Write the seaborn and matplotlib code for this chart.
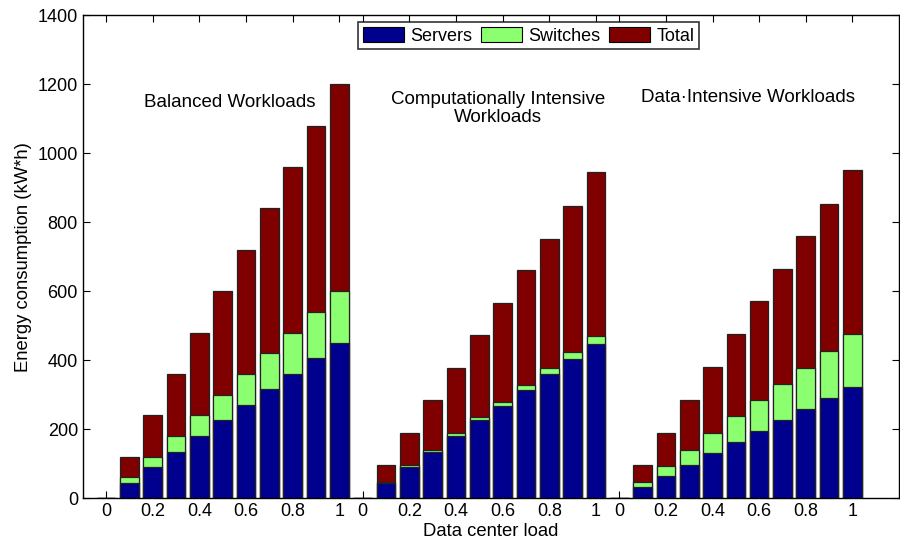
import matplotlib
matplotlib.use("Agg")
import matplotlib.pyplot as plt
import matplotlib.patches as mpatches
import pandas as pd
import seaborn as sns

# Data (bar heights in kW*h; bars overlap, Total drawn behind)
loads = [0, 0.1, 0.2, 0.3, 0.4, 0.5, 0.6, 0.7, 0.8, 0.9, 1.0]
groups = ["Balanced Workloads", "Computationally Intensive\nWorkloads", "Data\u00b7Intensive Workloads"]

balanced_servers = [0, 45, 90, 135, 180, 225, 270, 315, 360, 405, 450]
balanced_switches = [0, 60, 120, 180, 240, 300, 360, 420, 480, 540, 600]
balanced_total = [0, 120, 240, 360, 480, 600, 720, 840, 960, 1080, 1200]

comp_servers = [0, 45, 90, 135, 180, 225, 268, 313, 360, 403, 448]
comp_switches = [0, 47, 95, 140, 188, 235, 280, 328, 377, 423, 470]
comp_total = [0, 95, 190, 283, 377, 472, 565, 660, 752, 847, 944]

data_servers = [0, 33, 65, 97, 130, 162, 194, 226, 259, 290, 323]
data_switches = [0, 47, 93, 140, 188, 238, 285, 330, 378, 425, 475]
data_total = [0, 95, 190, 285, 380, 475, 570, 665, 760, 853, 950]

tick_loads = [0, 0.2, 0.4, 0.6, 0.8, 1.0]

series_colors = {"Servers": "#00008F", "Switches": "#8CFF70", "Total": "#800000"}

# build long table: one row per bar, bars at consecutive slots 1..33
rows = []
group_values = [
    (balanced_servers, balanced_switches, balanced_total),
    (comp_servers, comp_switches, comp_total),
    (data_servers, data_switches, data_total),
]
for g, (srv, sw, tot) in enumerate(group_values):
    for i, load in enumerate(loads):
        pos = g * len(loads) + i + 1
        rows.append({"pos": pos, "load": load, "series": "Servers", "value": srv[i]})
        rows.append({"pos": pos, "load": load, "series": "Switches", "value": sw[i]})
        rows.append({"pos": pos, "load": load, "series": "Total", "value": tot[i]})
df = pd.DataFrame(rows)

sns.set_style("ticks", {"xtick.direction": "in", "ytick.direction": "in"})
plt.rcParams["font.family"] = ["Liberation Sans", "DejaVu Sans"]
plt.rcParams["text.color"] = "black"
plt.rcParams["axes.labelcolor"] = "black"
plt.rcParams["xtick.color"] = "black"
plt.rcParams["ytick.color"] = "black"

fig = plt.figure(figsize=(9, 5.42), dpi=100)
ax = fig.add_axes([0.092, 0.081, 0.907, 0.891])

for s in ["Total", "Switches", "Servers"]:
    sns.barplot(
        data=df[df["series"] == s], x="pos", y="value",
        native_scale=True, width=0.8, color=series_colors[s],
        saturation=1, edgecolor="#222222", linewidth=0.9,
        errorbar=None, ax=ax,
    )

ax.set_xlim(0, 35)
ax.set_ylim(0, 1400)
ax.set_yticks(range(0, 1401, 200))

# ticks at 0, 0.2, ... 1 inside each group
tick_pos, tick_lab = [], []
for g in range(len(groups)):
    for t in tick_loads:
        i = loads.index(t)
        tick_pos.append(g * len(loads) + i + 1)
        tick_lab.append(f"{t:g}")
ax.set_xticks(tick_pos)
ax.set_xticklabels(tick_lab)

ax.tick_params(axis="both", which="both", direction="in", top=True, right=True,
               labelsize=13, length=5, width=0.8, color="black", labelcolor="black")
for sp in ax.spines.values():
    sp.set_visible(True)
    sp.set_color("black")
    sp.set_linewidth(1.0)

ax.set_xlabel("Data center load", fontsize=13.3, labelpad=2, color="black")
ax.set_ylabel("Energy consumption (kW*h)", fontsize=13.3, labelpad=4, color="black")

# group labels
label_x = [6.3, 17.8, 28.5]
label_y = [1148, 1130, 1160]
for name, x, y in zip(groups, label_x, label_y):
    ax.text(x, y, name, ha="center", va="center", fontsize=13.5, linespacing=1.05,
            color="black")

handles = [mpatches.Patch(facecolor=series_colors[s], edgecolor="black", linewidth=0.8, label=s)
           for s in ["Servers", "Switches", "Total"]]
leg = ax.legend(handles=handles, ncol=3, loc="upper center", bbox_to_anchor=(0.546, 0.985),
                fontsize=13, frameon=True, fancybox=False, edgecolor="black",
                handlelength=2.3, handleheight=0.9, handletextpad=0.35, columnspacing=0.45,
                borderpad=0.25, borderaxespad=0)
leg.get_frame().set_linewidth(1.2)
for t in leg.get_texts():
    t.set_color("black")

fig.savefig("out.png", dpi=100)
